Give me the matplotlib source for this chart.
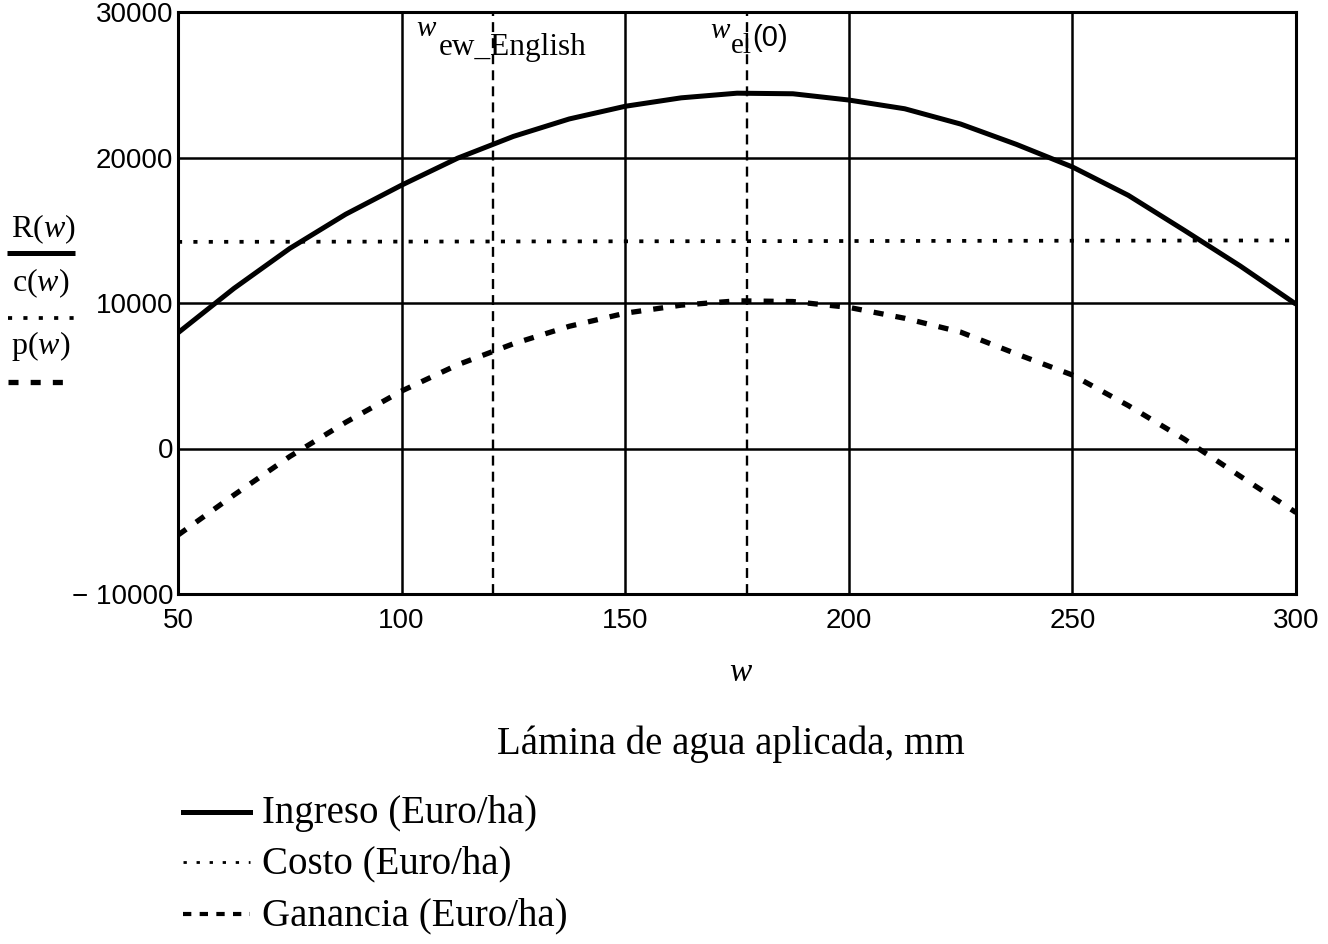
import matplotlib
matplotlib.use("Agg")
import matplotlib.pyplot as plt
from matplotlib.lines import Line2D

plt.rcParams['mathtext.fontset'] = 'custom'
plt.rcParams['mathtext.rm'] = 'Liberation Serif'
plt.rcParams['mathtext.it'] = 'Liberation Serif:italic'

# ---------------- data ----------------
w_vals = [50, 62.5, 75, 87.5, 100, 112.5, 125, 137.5, 150, 162.5, 175,
          187.5, 200, 212.5, 225, 237.5, 250, 262.5, 275, 287.5, 300]
ingreso = [7950, 11000, 13750, 16100, 18100, 19950, 21450, 22650, 23520, 24100, 24420,
           24380, 23950, 23350, 22300, 20900, 19350, 17400, 15000, 12550, 9920]
ganancia = [-5950, -3200, -550, 1800, 3950, 5750, 7200, 8400, 9300, 9850, 10150,
            10100, 9700, 8950, 8000, 6500, 5050, 2950, 650, -1900, -4400]
costo_w = [50, 300]
costo = [14200, 14300]
w_markers = [120.4, 177.3]

x_ticks = [50, 100, 150, 200, 250, 300]
y_ticks = [-10000, 0, 10000, 20000, 30000]
y_tick_labels = ["\u2212 10000", "0", "10000", "20000", "30000"]

legend_labels = ["Ingreso (Euro/ha)", "Costo (Euro/ha)", "Ganancia (Euro/ha)"]

# ---------------- figure ----------------
W, H = 1328, 944
fig = plt.figure(figsize=(W / 100, H / 100), dpi=100)
ax = fig.add_axes([178 / W, 1 - 594 / H, (1296 - 178) / W, (594 - 12) / H])

serif = 'Liberation Serif'
sans = 'Liberation Sans'

solid_kw = dict(color='black', lw=3.6, linestyle='-', solid_capstyle='butt')
dot_kw = dict(color='black', lw=2.7, linestyle=(0, (1.1, 3.0)))
dash_kw = dict(color='black', lw=3.8, linestyle=(0, (1.9, 2.3)))

ax.plot(w_vals, ingreso, zorder=4, **solid_kw)
ax.plot(costo_w, costo, zorder=4, **dot_kw)
ax.plot(w_vals, ganancia, zorder=4, **dash_kw)

for wm in w_markers:
    ax.axvline(wm, color='black', lw=1.7, linestyle=(0, (4.2, 2.6)), zorder=3)

ax.set_xlim(50, 300)
ax.set_ylim(-10000, 30000)
ax.set_xticks(x_ticks)
ax.set_yticks(y_ticks)
ax.set_yticklabels(y_tick_labels)
ax.grid(True, color='black', lw=1.8)
ax.set_axisbelow(True)
ax.tick_params(length=0, labelsize=20)
ax.tick_params(axis='x', pad=10)
ax.tick_params(axis='y', pad=3.5)
for lab in ax.get_xticklabels() + ax.get_yticklabels():
    lab.set_fontfamily(sans)
for sp in ax.spines.values():
    sp.set_linewidth(2.2)
    sp.set_color('black')

# marker labels
def px_annot(text, wm, dx, dy, size, style='normal', family=serif, va='baseline'):
    ax.annotate(text, xy=(wm, 1.0), xycoords=('data', 'axes fraction'),
                xytext=(dx, dy), textcoords='offset pixels',
                fontsize=size, fontstyle=style, family=family,
                ha='left', va=va, annotation_clip=False, zorder=5)

# w_ew_English (line at x=493, axes top at y=12)
px_annot("w", w_markers[0], 416 - 493, -(36 - 12), 21, style='italic')
px_annot("ew_English", w_markers[0], 439 - 493, -(55 - 12), 22.5)
# w_el(0) (line at x=747)
px_annot("w", w_markers[1], 710 - 747, -(38 - 12), 21, style='italic')
px_annot("el", w_markers[1], 731 - 747, -(53 - 12), 21)
px_annot("(0)", w_markers[1], 752 - 747, -(46 - 12), 21, family=sans)

# left-side function labels with line samples
def fx(x):
    return x / W

def fy(y):
    return 1 - y / H

fig.text(fx(43), fy(237), r"R($\it{w}$)", ha='center', va='baseline', fontsize=23, family=serif)
fig.text(fx(41), fy(291), r"c($\it{w}$)", ha='center', va='baseline', fontsize=23, family=serif)
fig.text(fx(41), fy(354), r"p($\it{w}$)", ha='center', va='baseline', fontsize=23, family=serif)
fig.add_artist(Line2D([fx(7), fx(75)], [fy(253), fy(253)], transform=fig.transFigure, **solid_kw))
fig.add_artist(Line2D([fx(8), fx(74)], [fy(318), fy(318)], transform=fig.transFigure, **dot_kw))
fig.add_artist(Line2D([fx(8), fx(74)], [fy(382), fy(382)], transform=fig.transFigure, **dash_kw))

# axis variable and caption
fig.text(fx(740), fy(673), "w", ha='center', va='center', fontsize=24, style='italic', family=serif)
fig.text(fx(731), fy(744), "L\u00e1mina de agua aplicada, mm", ha='center', va='center',
         fontsize=28, family=serif)

# legend below
leg_styles = [dict(color='black', lw=3.6, linestyle='-'),
              dict(color='black', lw=2.0, linestyle=(0, (1.2, 3.5))),
              dict(color='black', lw=3.0, linestyle=(0, (2.0, 2.0)))]
leg_y = [812, 862, 914]
for lab, st, yy in zip(legend_labels, leg_styles, leg_y):
    fig.add_artist(Line2D([fx(183), fx(250)], [fy(yy), fy(yy)], transform=fig.transFigure, **st))
    fig.text(fx(262), fy(yy + 2), lab, ha='left', va='center', fontsize=28, family=serif)

fig.savefig("out.png", dpi=100)
